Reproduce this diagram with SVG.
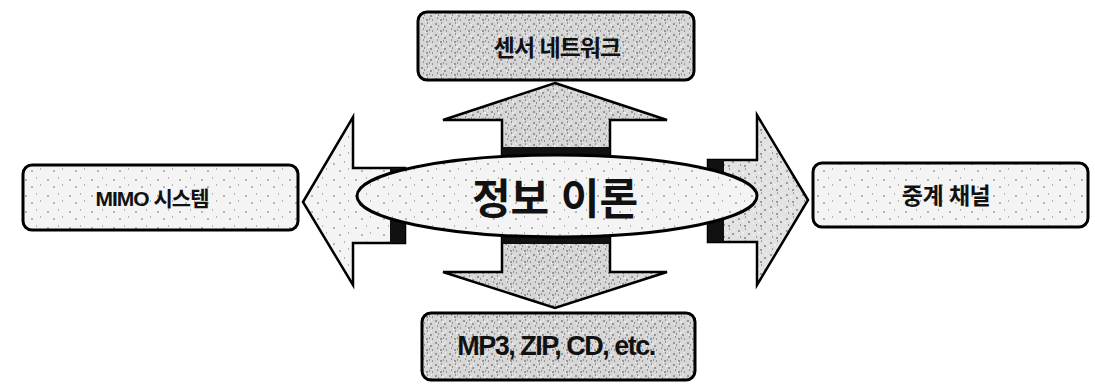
<svg xmlns="http://www.w3.org/2000/svg" width="1095" height="384" viewBox="0 0 1095 384">
<style>
.box{stroke:#000;stroke-width:3}
.arr{stroke:#000;stroke-width:2.5;stroke-linejoin:miter}
.lbl{font-family:"Liberation Sans","Noto Sans CJK KR",sans-serif;font-weight:bold;fill:#111;text-anchor:middle}
.band{fill:#111}
</style>
<defs>
<pattern id="dense" width="14" height="11" patternUnits="userSpaceOnUse">
<rect width="14" height="11" fill="#d6d6d6"/>
<path d="M1 2h2M7 1h1M10 5h2M3 7h1M6 9h2M12 9h1M4 4h1M9 8h1" stroke="#555" stroke-width="1"/>
<path d="M2 5h1M8 3h2M11 1h1M5 10h1" stroke="#fff" stroke-width="1"/>
</pattern>
<pattern id="mid" width="16" height="12" patternUnits="userSpaceOnUse">
<rect width="16" height="12" fill="#e2e2e2"/>
<path d="M2 3h2M9 1h1M12 6h2M4 9h1M8 10h2" stroke="#555" stroke-width="1"/>
<path d="M6 5h2M14 2h1M1 7h1" stroke="#fff" stroke-width="1"/>
</pattern>
<pattern id="light" width="22" height="16" patternUnits="userSpaceOnUse">
<rect width="22" height="16" fill="#f4f4f4"/>
<path d="M3 4h2M14 2h1M9 11h2M18 9h1" stroke="#777" stroke-width="1"/>
</pattern>
</defs>
<rect width="1095" height="384" fill="#fff"/>
<g id="connectors">
<g id="arrow-up">
<polygon class="arr" fill="url(#dense)" points="555,83 667,120 610,120 610,160 502,160 502,120 443,120"/>
<rect class="band" x="502" y="147" width="108" height="9"/>
</g>
<g id="arrow-down">
<polygon class="arr" fill="url(#dense)" points="502,232 610,232 610,272 667,272 555,308 443,272 502,272"/>
<rect class="band" x="502" y="236" width="108" height="8"/>
</g>
<g id="arrow-left">
<polygon class="arr" fill="url(#light)" points="303,202 353,117 353,168 405,168 405,243 353,243 353,285"/>
<rect class="band" x="390" y="168" width="15" height="75"/>
</g>
<g id="arrow-right">
<polygon class="arr" fill="url(#mid)" points="808,200 757,115 757,160 708,160 708,242 757,242 757,285"/>
<rect class="band" x="708" y="160" width="16" height="82"/>
</g>
</g>
<g id="node-center">
<ellipse cx="557" cy="196" rx="200" ry="41" fill="url(#light)" stroke="#000" stroke-width="3"/>
<text class="lbl" x="555" y="214" font-size="42">정보 이론</text>
</g>
<g id="node-top">
<rect class="box" x="418" y="12" width="276" height="68" rx="9" fill="url(#dense)"/>
<text class="lbl" x="557" y="56" font-size="23" letter-spacing="-1">센서 네트워크</text>
</g>
<g id="node-bottom">
<rect class="box" x="422" y="313" width="273" height="67" rx="9" fill="url(#dense)"/>
<text class="lbl" x="556" y="355" font-size="27" letter-spacing="-1.5">MP3, ZIP, CD, etc.</text>
</g>
<g id="node-left">
<rect class="box" x="23" y="165" width="275" height="65" rx="9" fill="url(#light)"/>
<text class="lbl" x="152" y="206" font-size="21" letter-spacing="-1">MIMO 시스템</text>
</g>
<g id="node-right">
<rect class="box" x="813" y="163" width="275" height="64" rx="9" fill="url(#light)"/>
<text class="lbl" x="946" y="204" font-size="23" letter-spacing="-0.5">중계 채널</text>
</g>
</svg>
